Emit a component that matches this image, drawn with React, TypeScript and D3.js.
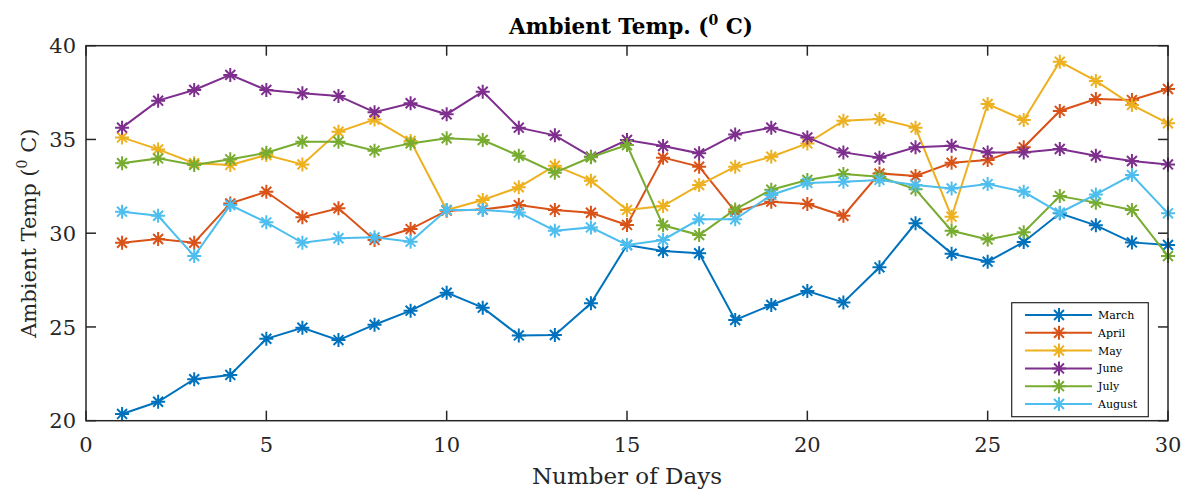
import React from "react";
import * as d3 from "d3";

const days = d3.range(1, 31);
const march = [20.36, 21.01, 22.21, 22.44, 24.37, 24.96, 24.3, 25.12, 25.87, 26.83, 26.03, 24.55, 24.57, 26.26, 29.37, 29.05, 28.93, 25.37, 26.17, 26.92, 26.31, 28.18, 30.53, 28.91, 28.48, 29.53, 31.06, 30.42, 29.51, 29.37];
const april = [29.49, 29.69, 29.49, 31.59, 32.21, 30.85, 31.33, 29.64, 30.22, 31.2, 31.27, 31.5, 31.24, 31.09, 30.44, 34.03, 33.55, 31.15, 31.68, 31.56, 30.93, 33.19, 33.05, 33.76, 33.9, 34.58, 36.52, 37.16, 37.1, 37.69];
const may = [35.11, 34.47, 33.73, 33.64, 34.17, 33.67, 35.41, 36.06, 34.92, 31.24, 31.77, 32.45, 33.6, 32.8, 31.24, 31.45, 32.57, 33.55, 34.08, 34.79, 36.0, 36.09, 35.63, 30.88, 36.89, 36.04, 39.15, 38.12, 36.84, 35.86];
const june = [35.63, 37.07, 37.64, 38.44, 37.64, 37.46, 37.32, 36.45, 36.93, 36.34, 37.55, 35.63, 35.22, 34.08, 34.97, 34.65, 34.26, 35.27, 35.63, 35.11, 34.31, 34.03, 34.58, 34.67, 34.31, 34.31, 34.49, 34.13, 33.85, 33.67];
const july = [33.73, 33.99, 33.64, 33.94, 34.29, 34.88, 34.88, 34.4, 34.79, 35.06, 34.97, 34.13, 33.23, 34.05, 34.7, 30.42, 29.9, 31.27, 32.32, 32.84, 33.16, 33.01, 32.34, 30.13, 29.67, 30.05, 31.98, 31.63, 31.24, 28.78];
const august = [31.15, 30.93, 28.78, 31.5, 30.58, 29.49, 29.73, 29.78, 29.55, 31.24, 31.24, 31.11, 30.13, 30.31, 29.37, 29.64, 30.74, 30.74, 32.04, 32.68, 32.75, 32.84, 32.57, 32.39, 32.62, 32.21, 31.09, 32.07, 33.1, 31.06];

const seriesNames = ["March", "April", "May", "June", "July", "August"];
const seriesValues = [march, april, may, june, july, august];
const colors = ["#0072BD", "#D95319", "#EDB120", "#7E2F8E", "#77AC30", "#4DBEEE"];
const xTicks = [0, 5, 10, 15, 20, 25, 30];
const yTicks = [20, 25, 30, 35, 40];

const W = 1182, H = 495;
const L = 86, R = 1168, T = 45.7, B = 420.7;
const FONT = "'DejaVu Serif', 'Liberation Serif', serif";

function star(cx: number, cy: number, r: number) {
  const d = r * 0.7071;
  return `M${cx - r},${cy}L${cx + r},${cy}M${cx},${cy - r}L${cx},${cy + r}M${cx - d},${cy - d}L${cx + d},${cy + d}M${cx - d},${cy + d}L${cx + d},${cy - d}`;
}

export default function App() {
  const x = d3.scaleLinear().domain([0, 30]).range([L, R]);
  const y = d3.scaleLinear().domain([20, 40]).range([B, T]);
  const line = d3.line<number>().x((_, i) => x(days[i])).y((v) => y(v));
  const tickLen = 10;
  const axisColor = "#262626";

  const legX = 1011.7, legY = 302.7, legW = 136.6, legH = 114;
  const rowY = (i: number) => 315 + i * 17.8;

  return (
    <svg width={W} height={H} style={{ position: "absolute", left: 0, top: 0, background: "#fff" }}>
      <rect x={0} y={0} width={W} height={H} fill="#fff" />
      {xTicks.map((t) => (
        <g key={"xt" + t}>
          <line x1={x(t)} x2={x(t)} y1={B} y2={B - tickLen} stroke={axisColor} strokeWidth={1.5} />
          <line x1={x(t)} x2={x(t)} y1={T} y2={T + tickLen} stroke={axisColor} strokeWidth={1.5} />
          <text x={x(t)} y={B + 31} textAnchor="middle" fontFamily={FONT} fontSize={21} fill="#262626">{t}</text>
        </g>
      ))}
      {yTicks.map((t) => (
        <g key={"yt" + t}>
          <line x1={L} x2={L + tickLen} y1={y(t)} y2={y(t)} stroke={axisColor} strokeWidth={1.5} />
          <line x1={R} x2={R - tickLen} y1={y(t)} y2={y(t)} stroke={axisColor} strokeWidth={1.5} />
          <text x={L - 10} y={y(t) + 7.6} textAnchor="end" fontFamily={FONT} fontSize={21} fill="#262626">{t}</text>
        </g>
      ))}
      {seriesValues.map((vals, si) => (
        <g key={seriesNames[si]}>
          <path d={line(vals) || ""} fill="none" stroke={colors[si]} strokeWidth={2} />
          {vals.map((v, i) => (
            <path key={i} d={star(x(days[i]), y(v), 7)} stroke={colors[si]} strokeWidth={2} fill="none" />
          ))}
        </g>
      ))}
      <rect x={L} y={T} width={R - L} height={B - T} fill="none" stroke={axisColor} strokeWidth={1.5} />
      <text x={631} y={34} textAnchor="middle" fontFamily={FONT} fontSize={21.5} fontWeight="bold" fill="#000">
        Ambient Temp. (<tspan dy={-9} fontSize={14}>0</tspan><tspan dy={9}> C)</tspan>
      </text>
      <text x={627} y={484} textAnchor="middle" fontFamily={FONT} fontSize={23} fill="#262626">Number of Days</text>
      <text transform={`translate(36,${(T + B) / 2}) rotate(-90)`} textAnchor="middle" fontFamily={FONT} fontSize={21} fill="#262626">
        Ambient Temp (<tspan dy={-9} fontSize={14}>0</tspan><tspan dy={9}> C)</tspan>
      </text>
      <rect x={legX} y={legY} width={legW} height={legH} fill="#fff" stroke={axisColor} strokeWidth={1.2} />
      {seriesNames.map((n, i) => (
        <g key={"lg" + n}>
          <line x1={1025} x2={1092} y1={rowY(i)} y2={rowY(i)} stroke={colors[i]} strokeWidth={2} />
          <path d={star(1059, rowY(i), 7)} stroke={colors[i]} strokeWidth={2} fill="none" />
          <text x={1098} y={rowY(i) + 4} fontFamily={FONT} fontSize={11} fill="#000">{n}</text>
        </g>
      ))}
    </svg>
  );
}
